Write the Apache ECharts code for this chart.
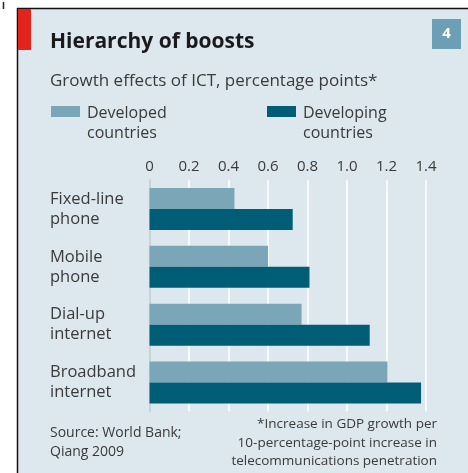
<!DOCTYPE html>
<html><head><meta charset="utf-8">
<script src="https://cdn.jsdelivr.net/npm/echarts@6/dist/echarts.min.js"></script>
<style>html,body{margin:0;padding:0;background:#fff}#c{width:468px;height:473px}</style>
</head><body><div id="c"></div>
<script>
const categories = ['Fixed-line\nphone', 'Mobile\nphone', 'Dial-up\ninternet', 'Broadband\ninternet'];
const developed = [0.43, 0.60, 0.77, 1.205];
const developing = [0.725, 0.81, 1.115, 1.375];
const seriesNames = ['Developed\ncountries', 'Developing\ncountries'];
const tickValues = [0, 0.2, 0.4, 0.6, 0.8, 1.0, 1.2, 1.4];

const FONT = '"Open Sans"';
const TXT = '#3a3a3a';
const C_DEV = '#7ba6b7', C_DEVG = '#005d76';
const chart = echarts.init(document.getElementById('c'), null, {renderer: 'canvas'});
chart.setOption({
  animation: false,
  backgroundColor: '#ffffff',
  textStyle: {fontFamily: FONT},
  graphic: [
    {type: 'rect', shape: {x: 18, y: 8, width: 450, height: 465}, style: {fill: '#dde7ee'}, z: -10},
    {type: 'line', shape: {x1: 17.5, y1: 8, x2: 17.5, y2: 473}, style: {stroke: '#111', lineWidth: 1.5}},
    {type: 'line', shape: {x1: 17, y1: 8.5, x2: 468, y2: 8.5}, style: {stroke: '#111', lineWidth: 1.5}},
    {type: 'line', shape: {x1: 3.5, y1: 2, x2: 3.5, y2: 9}, style: {stroke: '#222', lineWidth: 1.5}},
    {type: 'rect', shape: {x: 18, y: 9, width: 13, height: 41}, style: {fill: '#e3241b'}},
    {type: 'rect', shape: {x: 432, y: 19, width: 29, height: 30}, style: {fill: '#6c9fb6'}},
    {type: 'text', x: 446.5, y: 34, style: {text: '4', fill: '#fff', font: 'bold 15px ' + FONT, align: 'center', verticalAlign: 'middle'}},
    {type: 'text', x: 50, y: 42, style: {text: 'Hierarchy of boosts', fill: '#1a1a1a', font: 'bold 21px ' + FONT, verticalAlign: 'middle'}},
    {type: 'text', x: 50, y: 81, style: {text: 'Growth effects of ICT, percentage points*', fill: TXT, font: '17px ' + FONT, verticalAlign: 'middle'}},
    {type: 'rect', shape: {x: 51, y: 106, width: 29, height: 11}, style: {fill: C_DEV}},
    {type: 'text', x: 87, y: 123, style: {text: seriesNames[0], fill: TXT, font: '16px ' + FONT, lineHeight: 20, verticalAlign: 'middle'}},
    {type: 'rect', shape: {x: 267, y: 106, width: 29, height: 11}, style: {fill: C_DEVG}},
    {type: 'text', x: 303, y: 123, style: {text: seriesNames[1], fill: TXT, font: '16px ' + FONT, lineHeight: 20, verticalAlign: 'middle'}},
    {type: 'text', x: 50, y: 443, style: {text: 'Source: World Bank;\nQiang 2009', fill: TXT, font: '14px ' + FONT, lineHeight: 19, verticalAlign: 'middle'}},
    {type: 'text', x: 437, y: 443, style: {text: '*Increase in GDP growth per\n10-percentage-point increase in\ntelecommunications penetration', fill: TXT, font: '13.5px ' + FONT, lineHeight: 18.5, align: 'right', verticalAlign: 'middle'}}
  ],
  grid: {left: 149.5, right: 42, top: 180, bottom: 61.5, containLabel: false},
  xAxis: {
    type: 'value', position: 'top', min: 0, max: 1.4, interval: 0.2,
    axisLine: {show: false}, axisTick: {show: false},
    axisLabel: {margin: 6, fontSize: 15, color: TXT, fontFamily: FONT,
      formatter: v => { const t = tickValues.find(x => Math.abs(x - v) < 1e-9); return t === 0 ? '0' : t.toFixed(1); }},
    splitLine: {show: true, lineStyle: {color: '#ffffff', width: 1.5}}
  },
  yAxis: {
    type: 'category', inverse: true, data: categories,
    axisLine: {show: true, lineStyle: {color: '#b9c6cd', width: 1.5}}, axisTick: {show: false},
    axisLabel: {align: 'left', margin: 99.5, fontSize: 16.5, lineHeight: 20, color: TXT, fontFamily: FONT}
  },
  series: [
    {name: seriesNames[0], type: 'bar', data: developed, barWidth: 21, barGap: '0%', itemStyle: {color: C_DEV}},
    {name: seriesNames[1], type: 'bar', data: developing, barWidth: 21, barGap: '0%', itemStyle: {color: C_DEVG}}
  ]
});
</script></body></html>
